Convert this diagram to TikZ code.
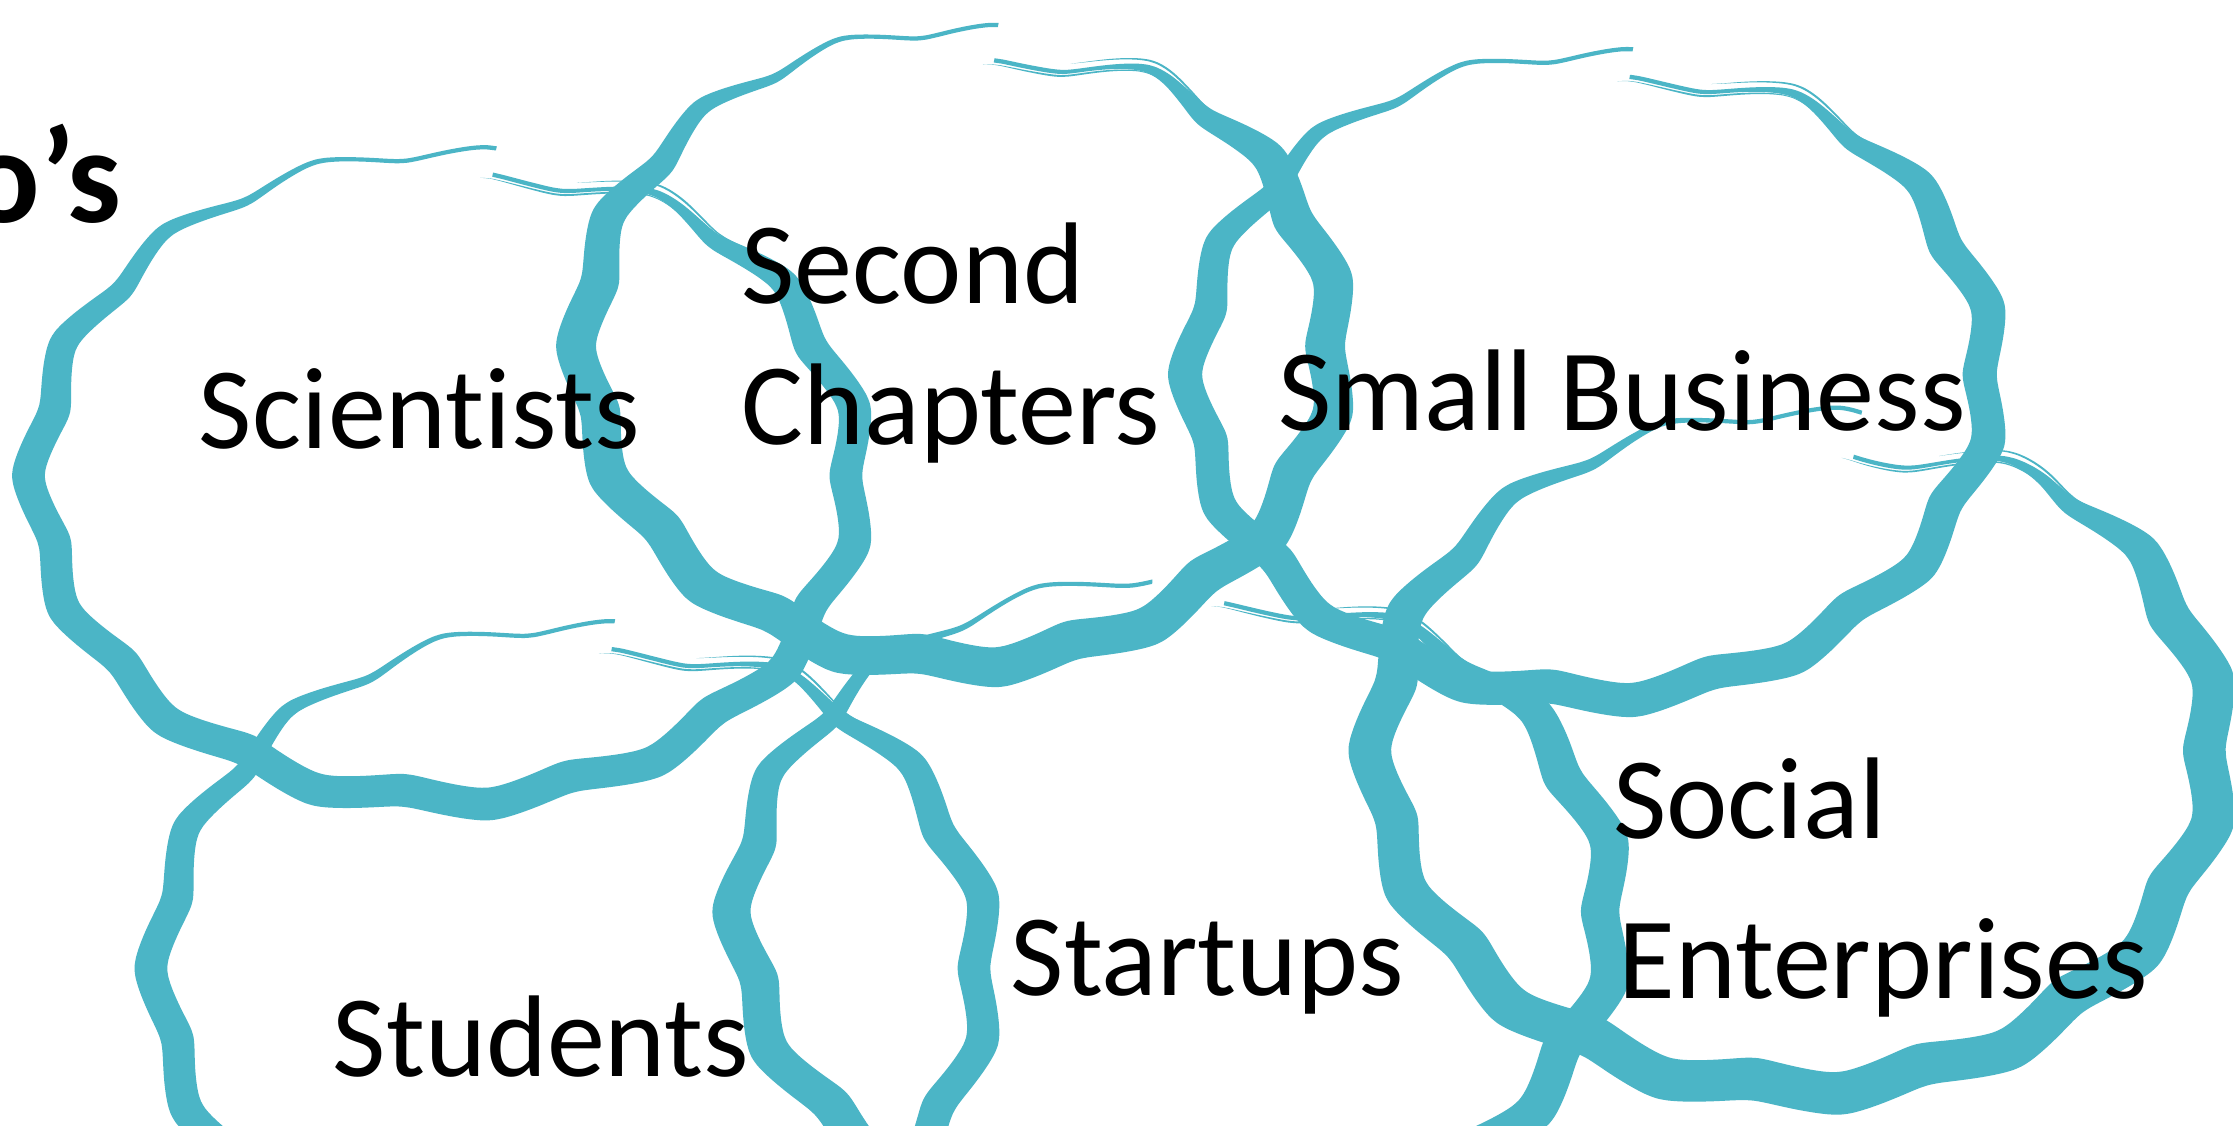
\documentclass[tikz,border=0pt]{standalone}
\usepackage{fontspec}
\setmainfont{Carlito}[Ligatures=NoCommon]
\definecolor{brush}{RGB}{75,181,198}
\tikzset{
  declare function={
    wav(\p)=1+\WA*asin(0.88*sin(15*\p-90))/61.64;
    cl(\x)=min(1,max(0,\x));
    ss(\x)=cl(\x)*cl(\x)*(3-2*cl(\x));
    thk(\t)=\WM+(\W-\WM)*ss((\t-0.05)/0.21)*(1-ss((\t-0.83)/0.13));
    shr(\t)=1-\SH*ss((\t-\TS)/(1-\TS));
  },
  lbl/.style={font=\fontsize{23.2}{28}\selectfont, inner sep=0pt, anchor=base west},
  ttl/.style={font=\bfseries\fontsize{27}{32}\selectfont, inner sep=0pt, anchor=base east},
}
\def\WA{0.021}
\def\TS{0.92}
\def\WM{3}
% thin dry-brush streak along the current cloud: #1 t-from, #2 t-to, #3 radial offset
\newcommand\streak[3]{%
  \fill[brush]
    plot[smooth,variable=\t,domain=#1:#2,samples=22]
      ({\CX+(\RX*wav(\PS+\SW*\t)*shr(\t)+#3+0.7*sin(180*(\t-#1)/(#2-#1)))*cos(\PS+\SW*\t)},
       {\CY-(\RY*wav(\PS+\SW*\t)*shr(\t)+#3+0.7*sin(180*(\t-#1)/(#2-#1)))*sin(\PS+\SW*\t)})
    -- plot[smooth,variable=\t,domain=#2:#1,samples=22]
      ({\CX+(\RX*wav(\PS+\SW*\t)*shr(\t)+#3-0.7*sin(180*(\t-#1)/(#2-#1)))*cos(\PS+\SW*\t)},
       {\CY-(\RY*wav(\PS+\SW*\t)*shr(\t)+#3-0.7*sin(180*(\t-#1)/(#2-#1)))*sin(\PS+\SW*\t)})
    -- cycle;
}
% #1 cx, #2 cy, #3 rx, #4 ry, #5 max width, #6 start angle, #7 inward shrink, #8 sweep
\newcommand\cloudband[8]{%
  \def\CX{#1}\def\CY{#2}\def\RX{#3}\def\RY{#4}\def\W{#5}\def\PS{#6}\def\SH{#7}\def\SW{#8}%
  \fill[brush]
    plot[smooth,variable=\t,domain=0:1,samples=260]
      ({\CX+(\RX*wav(\PS+\SW*\t)*shr(\t)+0.5*thk(\t))*cos(\PS+\SW*\t)},
       {\CY-(\RY*wav(\PS+\SW*\t)*shr(\t)+0.5*thk(\t))*sin(\PS+\SW*\t)})
    -- plot[smooth,variable=\t,domain=1:0,samples=260]
      ({\CX+(\RX*wav(\PS+\SW*\t)*shr(\t)-0.5*thk(\t))*cos(\PS+\SW*\t)},
       {\CY-(\RY*wav(\PS+\SW*\t)*shr(\t)-0.5*thk(\t))*sin(\PS+\SW*\t)})
    -- cycle;
  \streak{0.885}{0.965}{6}
  \streak{0.92}{1.005}{-3}
}
\begin{document}
\begin{tikzpicture}[x=0.01cm,y=-0.01cm]
\useasboundingbox (0,0) rectangle (1568,790);
\clip (0,0) rectangle (1568,790);
\fill[white] (0,0) rectangle (1568,790);
% clouds
\cloudband{313}{334}{287}{227}{23}{83}{0.08}{360}
\cloudband{673}{243}{263}{222}{28}{84}{0.11}{360}
\cloudband{1117}{263}{279}{225}{24}{84}{0.085}{360}
\cloudband{1261}{527}{293}{237}{30}{81}{0.13}{360}
\cloudband{401}{680}{289}{240}{23}{84}{0.08}{360}
\cloudband{825}{640}{305}{235}{27}{93}{0.09}{350}
% labels
\node[lbl] (sci) at (139,315) {Scientists};
\node[lbl] (sec1) at (520,213) {Second};
\node[lbl] (sec2) at (520,312) {Chapters};
\node[lbl] (smb) at (897,302) {Small Business};
\node[lbl] (stu) at (233,756) {Students};
\node[lbl] (sta) at (709,699) {Startups};
\node[lbl] (soc1) at (1132,589) {Social};
\node[lbl] (soc2) at (1136,701) {Enterprises};
\node[ttl] (title) at (86,156) {o’s};
\end{tikzpicture}
\end{document}
